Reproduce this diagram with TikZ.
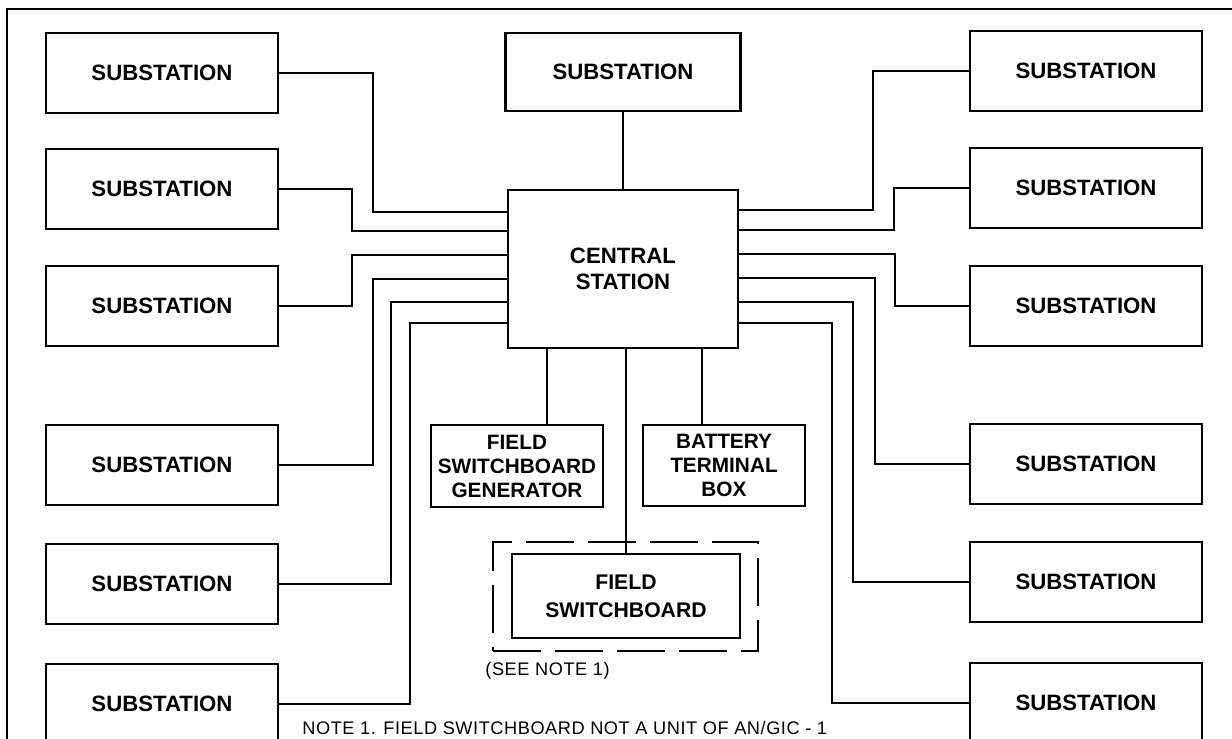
\documentclass[tikz,border=0pt]{standalone}
\usepackage{fontspec}
\setmainfont{Liberation Sans}
\usetikzlibrary{positioning}

\begin{document}
\begin{tikzpicture}[
  x=0.5pt, y=-0.5pt,
  font=\fontsize{11.1}{13}\selectfont\bfseries,
  stationbox/.style={
    draw,
    line width=1.4pt,
    minimum width=116pt,
    minimum height=40pt,
    inner sep=0pt,
    align=center
  },
  unitbox/.style={
    draw,
    line width=1.4pt,
    inner sep=0pt,
    align=center
  },
  fencebox/.style={
    draw,
    line width=1.4pt,
    dash pattern=on 24pt off 7pt,
    inner sep=0pt
  },
  cable/.style={line width=1.2pt},
  notetext/.style={
    font=\fontsize{9.1}{11}\selectfont\addfontfeatures{LetterSpace=3},
    inner sep=0pt
  }
]
  \useasboundingbox (0,0) rectangle (1232,739);
  \clip (0,0) rectangle (1232,739);

  % --- Frame (cut off at right and bottom) ---
  \draw[line width=1.1pt] (7,760) -- (7,9) -- (1240,9);

  % --- Central station and top substation ---
  \node[unitbox, minimum width=115pt, minimum height=79pt] (central) at (623,269) {CENTRAL\\STATION};
  \node[stationbox, minimum width=117.5pt, minimum height=39pt] (subtop) at (623,72) {SUBSTATION};
  \draw[cable] (subtop.south) -- (central.north);

  % --- Left column of substations ---
  \foreach \n/\y in {1/73, 2/189, 3/306, 4/465, 5/584, 6/704}
    \node[stationbox] (left\n) at (162,\y) {SUBSTATION};

  % --- Right column of substations ---
  \foreach \n/\y in {1/71, 2/188, 3/306, 4/464, 5/582, 6/703}
    \node[stationbox] (right\n) at (1086,\y) {SUBSTATION};

  % Lines into the central station
  \foreach \n/\xb/\yc in {1/373/212, 2/352/231, 3/352/255, 4/373/279, 5/391/302, 6/410/323}
    \draw[cable] (left\n.east) -| (\xb,\yc) -- (central.west |- 0,\yc);
  \foreach \n/\xb/\yc in {1/873/210, 2/894/230, 3/895/254, 4/875/278, 5/853/302, 6/832/323}
    \draw[cable] (right\n.west) -| (\xb,\yc) -- (central.east |- 0,\yc);

  % --- Units below the central station ---
  \node[unitbox, minimum width=86pt, minimum height=41pt, font=\fontsize{10.4}{12}\selectfont\bfseries] (generator) at (517,466) {FIELD\\SWITCHBOARD\\GENERATOR};
  \node[unitbox, minimum width=81pt, minimum height=40.5pt, font=\fontsize{10.4}{12}\selectfont\bfseries] (battery) at (724,465.5) {BATTERY\\TERMINAL\\BOX};
  \node[unitbox, minimum width=114pt, minimum height=42pt, font=\fontsize{10.6}{14}\selectfont\bfseries] (fieldsb) at (626,596) {FIELD\\SWITCHBOARD};
  \node[fencebox, minimum width=132.5pt, minimum height=54.5pt] (fence) at (625.5,596.5) {};

  \draw[cable] (central.south -| 547,0) -- (generator.north -| 547,0);
  \draw[cable] (central.south -| fieldsb.north) -- (fieldsb.north);
  \draw[cable] (central.south -| 702,0) -- (battery.north -| 702,0);

  % --- Notes ---
  \node[notetext, anchor=west] (seenote) at (485,671) {(SEE NOTE 1)};
  \node[notetext, anchor=west] (note) at (302,728) {NOTE 1. FIELD SWITCHBOARD NOT A UNIT OF AN/GIC - 1};

\end{tikzpicture}
\end{document}
